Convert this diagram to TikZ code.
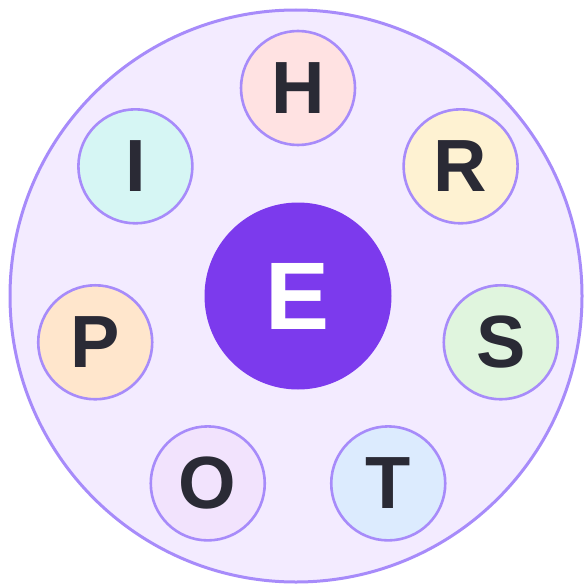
\documentclass[tikz,border=0pt]{standalone}
\usepackage{fontspec}
\setmainfont{Liberation Sans}
\definecolor{ringfill}{HTML}{F3EBFF}
\definecolor{ringline}{HTML}{A78BFA}
\definecolor{core}{HTML}{7C3AED}
\definecolor{ink}{HTML}{2A2A35}
\definecolor{cH}{HTML}{FFE2E2}
\definecolor{cR}{HTML}{FEF2D2}
\definecolor{cS}{HTML}{E0F5DE}
\definecolor{cT}{HTML}{DCEBFE}
\definecolor{cO}{HTML}{F2E3FD}
\definecolor{cP}{HTML}{FFE6CC}
\definecolor{cI}{HTML}{D6F6F4}
\tikzset{
  letter/.style={circle, draw=ringline, line width=2.6pt, minimum size=114pt, inner sep=0pt,
    text=ink, font=\fontsize{74}{74}\selectfont\bfseries},
}
\begin{document}
\begin{tikzpicture}[x=1pt,y=-1pt]
\useasboundingbox (0,0) rectangle (584,586);
\node[circle, draw=ringline, fill=ringfill, line width=3pt, minimum size=572pt, inner sep=0pt] (ring) at (296,296) {};
\node[circle, fill=core, minimum size=187pt, inner sep=0pt, text=white, font=\fontsize{96}{96}\selectfont\bfseries] (E) at (298,296) {E};
\node[letter, fill=cH] (H) at ({298+208*cos(90)},{296-208*sin(90)}) {H};
\node[letter, fill=cR] (R) at ({298+208*cos(90-360/7)},{296-208*sin(90-360/7)}) {R};
\node[letter, fill=cS] (S) at ({298+208*cos(90-2*360/7)},{296-208*sin(90-2*360/7)}) {S};
\node[letter, fill=cT] (T) at ({298+208*cos(90-3*360/7)},{296-208*sin(90-3*360/7)}) {T};
\node[letter, fill=cO] (O) at ({298+208*cos(90-4*360/7)},{296-208*sin(90-4*360/7)}) {O};
\node[letter, fill=cP] (P) at ({298+208*cos(90-5*360/7)},{296-208*sin(90-5*360/7)}) {P};
\node[letter, fill=cI] (I) at ({298+208*cos(90-6*360/7)},{296-208*sin(90-6*360/7)}) {I};
\end{tikzpicture}
\end{document}
